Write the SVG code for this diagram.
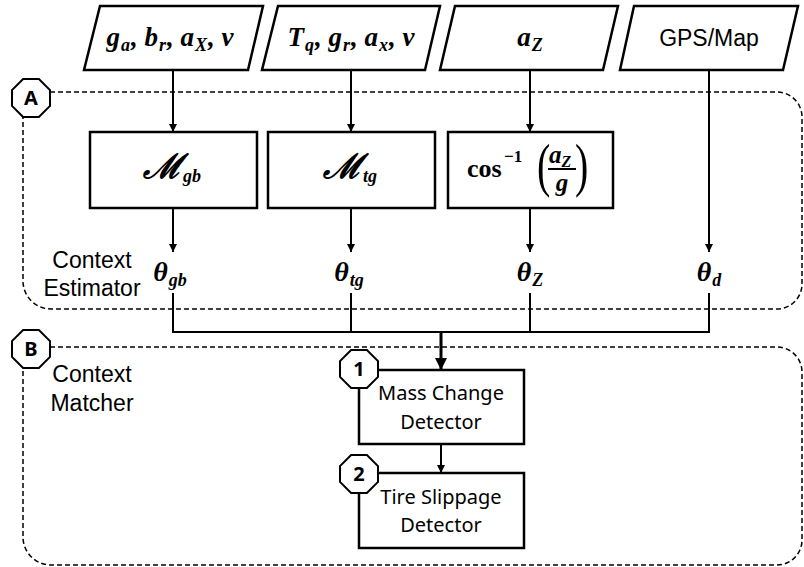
<svg xmlns="http://www.w3.org/2000/svg" width="804" height="567" viewBox="0 0 804 567">
<style>
.shape{fill:#fff;stroke:#000;stroke-width:2.5}
.dash{fill:none;stroke:#000;stroke-width:1.5;stroke-dasharray:5 3}
.line{fill:none;stroke:#000;stroke-width:2}
.thick{fill:none;stroke:#000;stroke-width:3}
.oct{fill:#fff;stroke:#000;stroke-width:2}
.m{font-family:"Liberation Serif","DejaVu Serif",serif;font-weight:bold;font-style:italic;font-size:27px;fill:#000}
.sub{font-size:18px}
.th{font-size:28px}
.up{font-family:"Liberation Serif","DejaVu Serif",serif;font-weight:bold;font-size:26px;fill:#000}
.sans{font-family:"Liberation Sans",Arial,sans-serif;font-size:23px;fill:#000}
.cal{font-family:"Noto Sans","Open Sans",sans-serif;font-size:20px;fill:#000}
.lbl{font-family:"Noto Sans","Open Sans",sans-serif;font-weight:bold;font-size:20px;fill:#000}
</style>
<defs>
<marker id="ah" viewBox="0 0 10 10" refX="10" refY="5" markerWidth="4" markerHeight="4" orient="auto" markerUnits="strokeWidth">
<path d="M0,0 L10,5 L0,10 z" fill="#000"/>
</marker>
<polygon id="octagon" class="oct" points="-7.9,-19 7.9,-19 19,-7.9 19,7.9 7.9,19 -7.9,19 -19,7.9 -19,-7.9"/>
</defs>

<g id="regionA">
<path class="dash" d="M50,92 H777 A25,25 0 0 1 802,117 V284 A25,25 0 0 1 777,309 H51 A28,28 0 0 1 23,281 V117"/>
<text class="sans" text-anchor="middle"><tspan x="92" y="268">Context</tspan><tspan x="92" y="296">Estimator</tspan></text>
</g>
<g id="regionB">
<path class="dash" d="M50,347 H777 A25,25 0 0 1 802,372 V540 A25,25 0 0 1 777,565 H51 A28,28 0 0 1 23,537 V368"/>
<text class="sans" text-anchor="middle"><tspan x="92" y="382">Context</tspan><tspan x="92" y="411">Matcher</tspan></text>
</g>

<g id="connectors">
<line class="line" x1="173" y1="70" x2="173" y2="132" marker-end="url(#ah)"/>
<line class="line" x1="351" y1="70" x2="351" y2="132" marker-end="url(#ah)"/>
<line class="line" x1="530" y1="70" x2="530" y2="132" marker-end="url(#ah)"/>
<line class="line" x1="709" y1="70" x2="709" y2="252" marker-end="url(#ah)"/>
<line class="line" x1="173" y1="208" x2="173" y2="252" marker-end="url(#ah)"/>
<line class="line" x1="351" y1="208" x2="351" y2="252" marker-end="url(#ah)"/>
<line class="line" x1="530" y1="208" x2="530" y2="252" marker-end="url(#ah)"/>
<path class="line" d="M173,293 V332 H709 V293 M351,293 V332 M530,293 V332"/>
<line class="thick" x1="441" y1="332" x2="441" y2="370" marker-end="url(#ah)"/>
<line class="line" x1="441" y1="444" x2="441" y2="473" marker-end="url(#ah)"/>
</g>

<g id="in1">
<polygon class="shape" points="100,6 263,6 248,70 84,70"/>
<text class="m" x="170" y="46" text-anchor="middle">g<tspan class="sub" dx="1" dy="5">a</tspan><tspan dx="1" dy="-5">, b</tspan><tspan class="sub" dx="1" dy="5">r</tspan><tspan dx="1" dy="-5">, a</tspan><tspan class="sub" dx="1" dy="5">X</tspan><tspan dx="1" dy="-5">, v</tspan></text>
</g>
<g id="in2">
<polygon class="shape" points="278,6 440,6 425,70 262,70"/>
<text class="m" x="351" y="46" text-anchor="middle">T<tspan class="sub" dx="1" dy="5">q</tspan><tspan dx="1" dy="-5">, g</tspan><tspan class="sub" dx="1" dy="5">r</tspan><tspan dx="1" dy="-5">, a</tspan><tspan class="sub" dx="1" dy="5">x</tspan><tspan dx="1" dy="-5">, v</tspan></text>
</g>
<g id="in3">
<polygon class="shape" points="455,6 618,6 603,70 440,70"/>
<text class="m" x="530" y="46" text-anchor="middle">a<tspan class="sub" dx="1" dy="5">Z</tspan></text>
</g>
<g id="in4">
<polygon class="shape" points="634,6 798,6 783,70 620,70"/>
<text class="sans" x="709" y="46" text-anchor="middle">GPS/Map</text>
</g>

<g id="Mgb">
<rect class="shape" x="90" y="132" width="167" height="76"/>
<text class="m" x="172" y="178" text-anchor="middle"><tspan style="font-size:34px">ℳ</tspan><tspan class="sub" dx="1" dy="4">gb</tspan></text>
</g>
<g id="Mtg">
<rect class="shape" x="268" y="132" width="167" height="76"/>
<text class="m" x="350" y="178" text-anchor="middle"><tspan style="font-size:34px">ℳ</tspan><tspan class="sub" dx="1" dy="4">tg</tspan></text>
</g>
<g id="acos">
<rect class="shape" x="448" y="132" width="165" height="76"/>
<text class="up" x="467" y="177">cos</text>
<text class="up" x="504" y="162" style="font-size:17px">−1</text>
<text class="up" transform="translate(537,185) scale(1,1.5)" style="font-size:40px;font-weight:normal">(</text>
<text class="m" x="549" y="163" style="font-size:25px">a<tspan class="sub" dy="4" style="font-size:16px">Z</tspan></text>
<line x1="548" y1="169" x2="576" y2="169" stroke="#000" stroke-width="2"/>
<text class="m" x="562" y="191" text-anchor="middle" style="font-size:25px">g</text>
<text class="up" transform="translate(575,185) scale(1,1.5)" style="font-size:40px;font-weight:normal">)</text>
</g>

<g id="thgb"><text class="m th" x="170" y="281" text-anchor="middle">θ<tspan class="sub" dx="1" dy="5">gb</tspan></text></g>
<g id="thtg"><text class="m th" x="349" y="281" text-anchor="middle">θ<tspan class="sub" dx="1" dy="5">tg</tspan></text></g>
<g id="thZ"><text class="m th" x="530" y="281" text-anchor="middle">θ<tspan class="sub" dx="1" dy="5">Z</tspan></text></g>
<g id="thd"><text class="m th" x="709" y="281" text-anchor="middle">θ<tspan class="sub" dx="1" dy="5">d</tspan></text></g>

<g id="mass">
<rect class="shape" x="359" y="370" width="165" height="74"/>
<text class="cal" text-anchor="middle"><tspan x="441" y="400">Mass Change</tspan><tspan x="441" y="429">Detector</tspan></text>
</g>
<g id="tire">
<rect class="shape" x="359" y="473" width="165" height="75"/>
<text class="cal" text-anchor="middle"><tspan x="441" y="504">Tire Slippage</tspan><tspan x="441" y="532">Detector</tspan></text>
</g>

<g id="octA"><use href="#octagon" x="31" y="98"/><text class="lbl" x="31" y="105" text-anchor="middle">A</text></g>
<g id="octB"><use href="#octagon" x="31" y="349"/><text class="lbl" x="31" y="356" text-anchor="middle">B</text></g>
<g id="oct1"><use href="#octagon" x="359" y="369"/><text class="lbl" x="359" y="376" text-anchor="middle">1</text></g>
<g id="oct2"><use href="#octagon" x="359" y="474"/><text class="lbl" x="359" y="481" text-anchor="middle">2</text></g>
</svg>
